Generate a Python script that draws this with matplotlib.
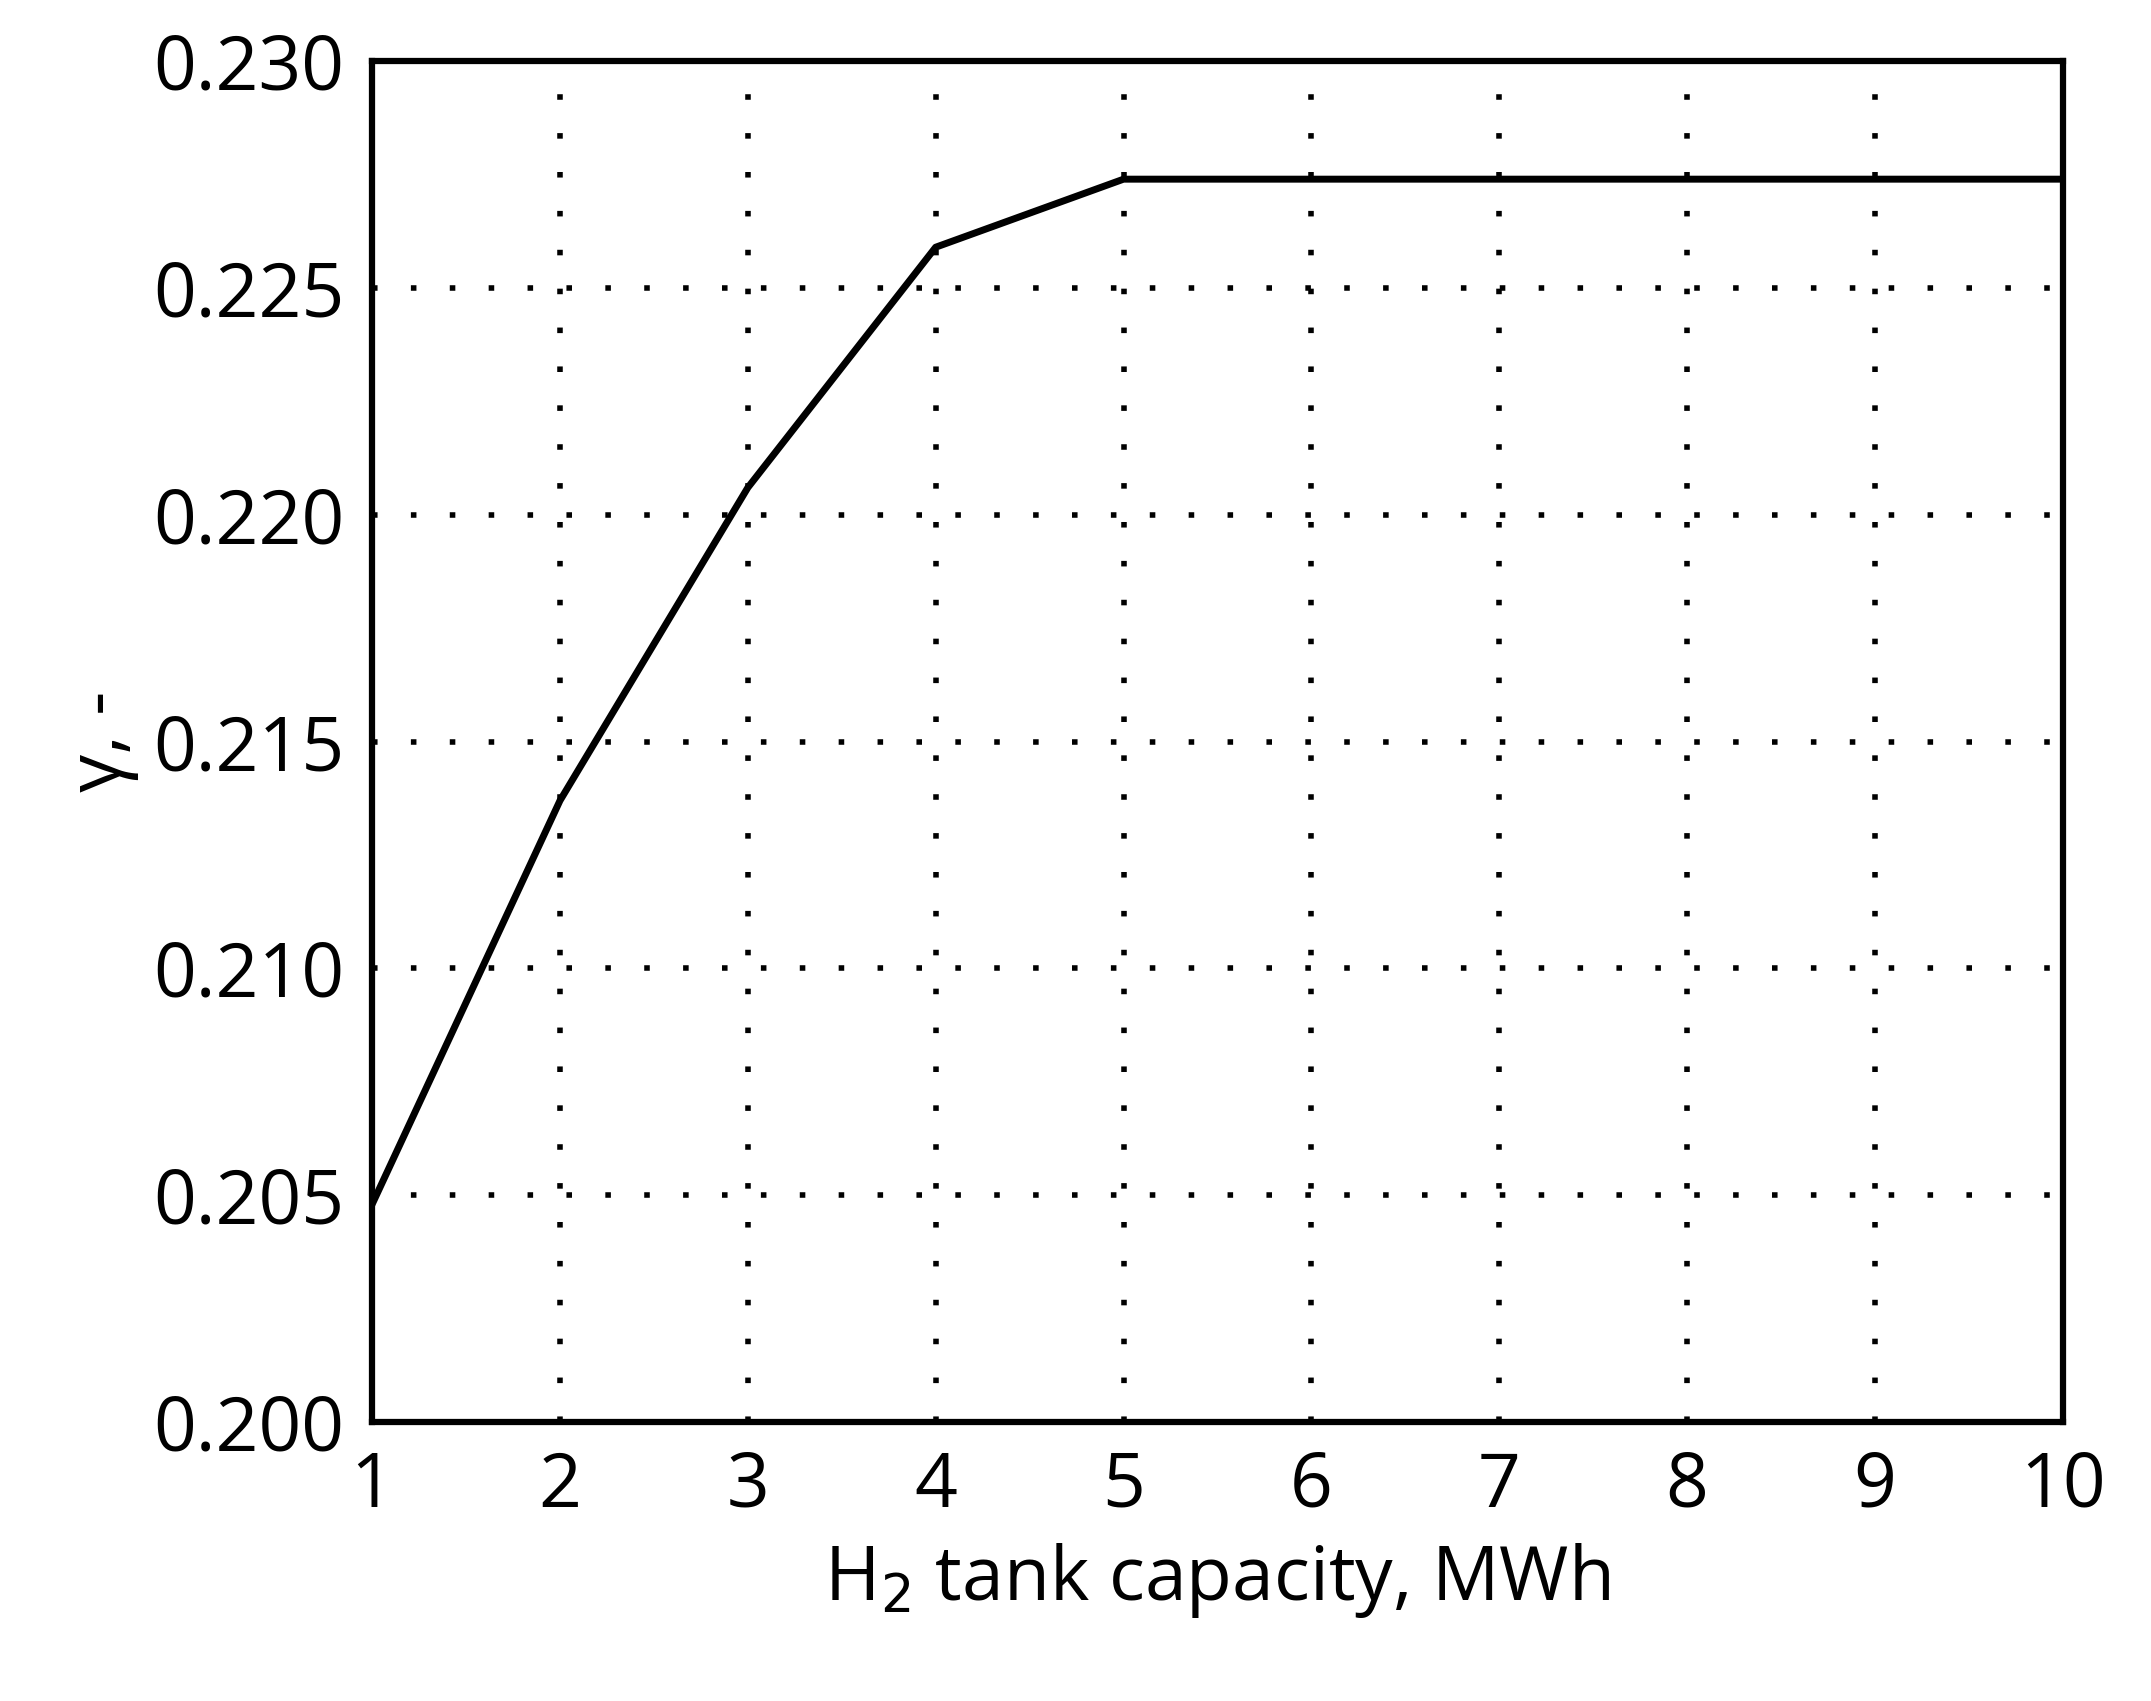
import matplotlib
matplotlib.use("Agg")
import matplotlib.pyplot as plt

capacity = [1, 2, 3, 4, 5, 6, 7, 8, 9, 10]
gamma = [0.2048, 0.2137, 0.2206, 0.2259, 0.2274, 0.2274, 0.2274, 0.2274, 0.2274, 0.2274]
yticks = [0.200, 0.205, 0.210, 0.215, 0.220, 0.225, 0.230]

plt.rcParams['font.family'] = ['Open Sans', 'DejaVu Sans']
fig = plt.figure(figsize=(21.51, 17.01), dpi=100)
ax = fig.add_axes([0.173, 0.164, 0.786, 0.800])
ax.plot(capacity, gamma, color='black', lw=5)
ax.set_xlim(1, 10)
ax.set_ylim(0.200, 0.230)
ax.set_xticks(capacity)
ax.set_yticks(yticks)
ax.set_yticklabels([f"{v:.3f}" for v in yticks])
ax.grid(True, color='black', linestyle=(0, (1, 6)), lw=4)
for s in ax.spines.values():
    s.set_linewidth(4.5)
ax.tick_params(labelsize=54, length=0, pad=20)
ax.set_xlabel("H$_2$ tank capacity, MWh", fontsize=54, labelpad=12)
ax.set_ylabel("γ, -", fontsize=54, labelpad=10)
fig.savefig("out.png", dpi=100)
